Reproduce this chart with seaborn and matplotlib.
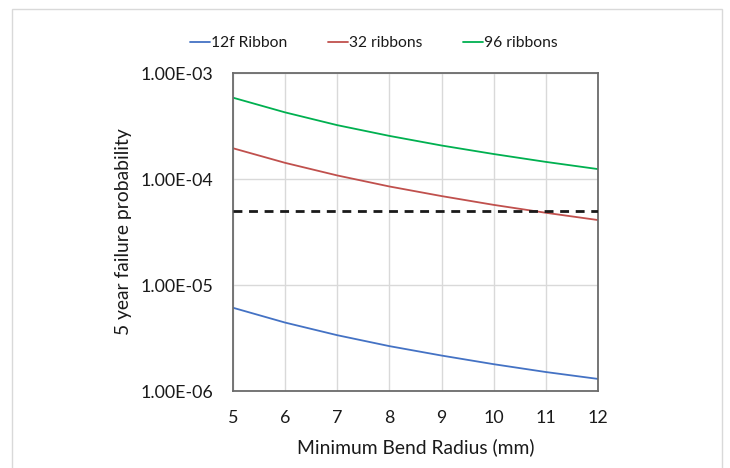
import numpy as np
import pandas as pd
import seaborn as sns
import matplotlib
matplotlib.use("Agg")
import matplotlib.pyplot as plt
from matplotlib.patches import Rectangle
from matplotlib.ticker import FixedLocator, FixedFormatter, NullLocator

# ---- data ----
radius_mm = [5, 6, 7, 8, 9, 10, 11, 12]
ribbon_12f = [6.1e-6, 4.42e-6, 3.36e-6, 2.65e-6, 2.16e-6, 1.79e-6, 1.51e-6, 1.30e-6]
ribbons_32 = [1.95e-4, 1.42e-4, 1.08e-4, 8.5e-5, 6.9e-5, 5.7e-5, 4.8e-5, 4.1e-5]
ribbons_96 = [5.85e-4, 4.25e-4, 3.22e-4, 2.55e-4, 2.07e-4, 1.72e-4, 1.45e-4, 1.24e-4]
threshold = 5.0e-5
series_names = ["12f Ribbon", "32 ribbons", "96 ribbons"]
y_ticks = [1e-6, 1e-5, 1e-4, 1e-3]
y_tick_labels = ["1.00E-06", "1.00E-05", "1.00E-04", "1.00E-03"]
x_ticks = [5, 6, 7, 8, 9, 10, 11, 12]

df = pd.DataFrame({
    "radius": radius_mm * 3,
    "prob": ribbon_12f + ribbons_32 + ribbons_96,
    "series": [series_names[0]] * 8 + [series_names[1]] * 8 + [series_names[2]] * 8,
})

sns.set_theme(style="white")
plt.rcParams["font.family"] = ["Lato", "DejaVu Sans"]
plt.rcParams["text.color"] = "#1a1a1a"

W, H = 730, 468
fig = plt.figure(figsize=(7.3, 4.68), dpi=100)
L, R, T, B = 233, 598, 73, 391
ax = fig.add_axes([L / W, 1 - B / H, (R - L) / W, (B - T) / H])

palette = {series_names[0]: "#4472C4", series_names[1]: "#C0504D", series_names[2]: "#00B050"}
sns.lineplot(data=df, x="radius", y="prob", hue="series", palette=palette,
             linewidth=1.3, ax=ax, legend=True)

ax.plot([radius_mm[0], radius_mm[-1]], [threshold, threshold], color="#1a1a1a",
        linestyle=(0, (3.2, 2.4)), linewidth=2.0, zorder=3)

ax.set_yscale("log")
ax.set_ylim(1e-6, 1e-3)
ax.set_xlim(5, 12)
ax.yaxis.set_major_locator(FixedLocator(y_ticks))
ax.yaxis.set_major_formatter(FixedFormatter(y_tick_labels))
ax.yaxis.set_minor_locator(NullLocator())
ax.set_xticks(x_ticks)
ax.set_xticklabels([str(v) for v in x_ticks])

ax.grid(True, which="major", color="#D9D9D9", linewidth=1.0)
ax.set_axisbelow(True)
for s in ax.spines.values():
    s.set_color("#6b6b6b")
    s.set_linewidth(1.3)

ax.set_xlabel("Minimum Bend Radius (mm)", color="#1a1a1a")
ax.set_ylabel("5 year failure probability", color="#1a1a1a")

handles, labels = ax.get_legend_handles_labels()
ax.legend_.remove()


def fit_size(make_text, target_w, size0, measure="width"):
    size = size0
    for _ in range(3):
        t = make_text(size)
        fig.canvas.draw()
        bb = t.get_window_extent()
        cur = bb.width if measure == "width" else bb.height
        t.remove()
        size *= target_w / cur
    return size


renderer = fig.canvas.get_renderer()
tick_size = fit_size(lambda s: fig.text(0, 0, "1.00E-03", fontsize=s), 73, 13)
title_size = fit_size(lambda s: fig.text(0, 0, "Minimum Bend Radius (mm)", fontsize=s), 237, 13)
legend_size = fit_size(lambda s: fig.text(0, 0, "12f Ribbon", fontsize=s), 76, 11)

ax.tick_params(axis="both", length=0, labelsize=tick_size, colors="#1a1a1a")
ax.tick_params(axis="y", pad=(L - 213) * 72 / 100)
fig.canvas.draw()
# place x tick labels so that their centres sit at y = 418 px
bb = ax.get_xticklabels()[0].get_window_extent()
cur_center = H - (bb.y0 + bb.y1) / 2
cur_pad = ax.xaxis.get_major_ticks()[0].get_pad()
ax.tick_params(axis="x", pad=cur_pad + (418 - cur_center) * 72 / 100)

ax.xaxis.label.set_fontsize(title_size)
ax.yaxis.label.set_fontsize(title_size)
ax.xaxis.label.set_va("center")
ax.yaxis.label.set_va("center")
ax.yaxis.label.set_ha("center")
ax.xaxis.set_label_coords(0.5, (B - 447) / (B - T))
ax.yaxis.set_label_coords((123 - L) / (R - L), 0.5)

fig.legend(handles, labels, loc="center", bbox_to_anchor=(374 / W, 1 - 43 / H),
           ncol=3, frameon=False, fontsize=legend_size, handlelength=1.25,
           handletextpad=0.1, columnspacing=2.6, labelcolor="#1a1a1a")

# outer chart frame
fig.patches.append(Rectangle((12 / W, -0.05), (722 - 12) / W, 1.05 - 9 / H,
                             transform=fig.transFigure, fill=False,
                             edgecolor="#D9D9D9", linewidth=1.0))

fig.savefig("out.png", dpi=100)
